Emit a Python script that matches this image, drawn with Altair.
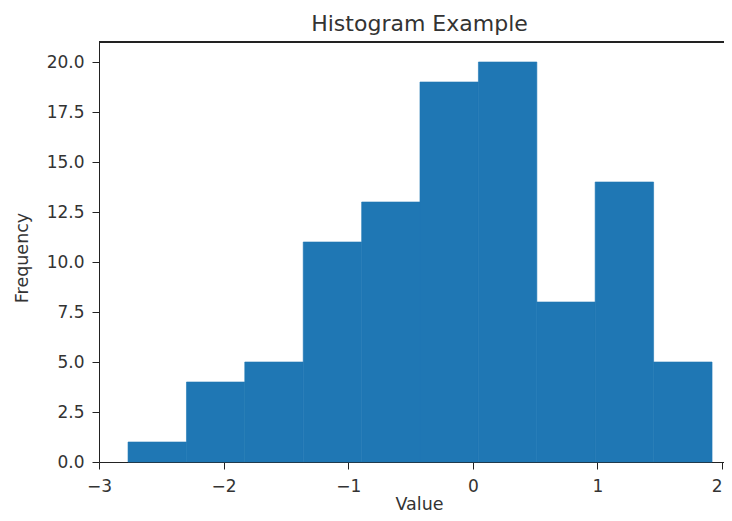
import altair as alt
import pandas as pd

# Histogram bin edges and counts per bin
bin_edges = [-2.767, -2.298, -1.830, -1.361, -0.892, -0.424, 0.045, 0.514, 0.982, 1.451, 1.920]
counts = [1, 4, 5, 11, 13, 19, 20, 8, 14, 5]

x_ticks = [-3, -2, -1, 0, 1, 2]
y_ticks = [0, 2.5, 5, 7.5, 10, 12.5, 15, 17.5, 20]

df = pd.DataFrame({
    "start": bin_edges[:-1],
    "end": bin_edges[1:],
    "count": counts,
})

FONT = "DejaVu Sans"
TXT = "#333333"
AX = "#222222"

W = 625
H = 420
common_axis = dict(labelFont=FONT, titleFont=FONT, labelFontSize=17, titleFontSize=17.5,
                   labelColor=TXT, titleColor=TXT, titleFontWeight="normal",
                   tickSize=7, grid=False, domainColor=AX, tickColor=AX,
                   titleBaseline="alphabetic", titleAlign="center")

bars = alt.Chart(df).mark_rect(color="#1f77b4", stroke="#1f77b4", strokeWidth=0.6).encode(
    x=alt.X("start:Q",
            scale=alt.Scale(domain=[-3, 2.016], nice=False, zero=False),
            axis=alt.Axis(values=x_ticks, format="d", title="Value",
                          labelPadding=9,
                          labelAlign={"expr": "datum.value >= 2 ? 'right' : 'center'"},
                          titleX=320, titleY=47, **common_axis)),
    x2="end:Q",
    y=alt.Y("count:Q",
            scale=alt.Scale(domain=[0, 21], nice=False),
            axis=alt.Axis(values=y_ticks, format=".1f", title="Frequency",
                          labelPadding=8, titleAngle=270,
                          titleX=-71.5, titleY=215.5, **common_axis)),
    y2=alt.datum(0),
)

top_spine = alt.Chart(df).mark_rule(color=AX, strokeWidth=1).encode(
    x=alt.value(0), x2=alt.value(W), y=alt.value(0)
)

chart = alt.layer(bars, top_spine).properties(
    width=W,
    height=H,
    title=alt.TitleParams("Histogram Example", fontSize=22, font=FONT,
                          fontWeight="normal", color=TXT, dx=8, offset=6),
    autosize=alt.AutoSizeParams(type="none"),
    padding={"left": 91, "top": 34, "right": 0, "bottom": 51},
    background="white",
).configure_view(stroke=None)

chart.save("out.html", embed_options={"renderer": "svg", "actions": False})
